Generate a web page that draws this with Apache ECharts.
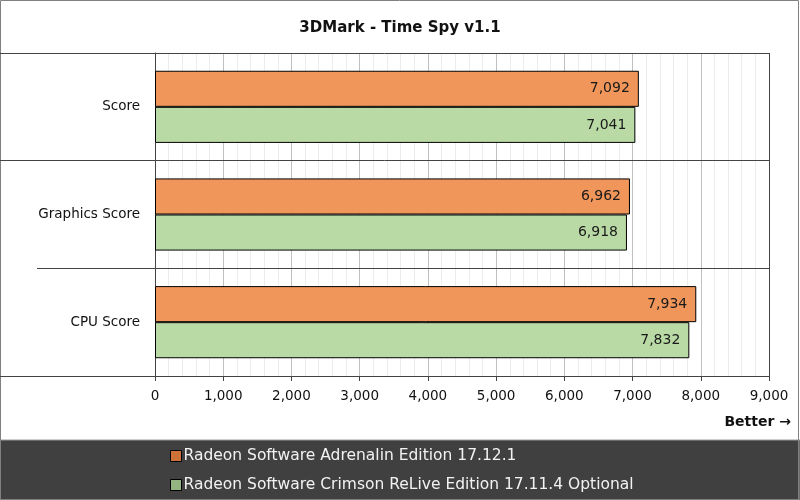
<!DOCTYPE html>
<html><head><meta charset="utf-8">
<script src="https://cdn.jsdelivr.net/npm/echarts@6/dist/echarts.min.js"></script>
<style>html,body{margin:0;padding:0;background:#fff}#c{width:800px;height:500px}</style>
</head><body><div id="c"></div>
<script>
const categories = ['Score', 'Graphics Score', 'CPU Score'];
const seriesNames = ['Radeon Software Adrenalin Edition 17.12.1', 'Radeon Software Crimson ReLive Edition 17.11.4 Optional'];
const adrenalin = [7092, 6962, 7934];
const crimson = [7041, 6918, 7832];
const xTicks = [0, 1000, 2000, 3000, 4000, 5000, 6000, 7000, 8000, 9000];

const FONT = '"DejaVu Sans", Verdana, sans-serif';
const fmt = v => v.toLocaleString('en-US');
const chart = echarts.init(document.getElementById('c'), null, {renderer: 'canvas'});
const barLabel = {show: true, position: 'insideRight', distance: 9, color: '#1a1a1a', fontSize: 14, fontFamily: FONT, formatter: p => fmt(p.value)};
const legendBase = {
  orient: 'vertical', left: 165, itemWidth: 11, itemHeight: 11, itemGap: 10,
  icon: 'rect', selectedMode: false,
  textStyle: {color: '#f2f2f2', fontSize: 15.5, fontFamily: FONT, padding: [0, 0, 0, -3]}
};
chart.setOption({
  animation: false,
  backgroundColor: '#fff',
  title: {text: '3DMark - Time Spy v1.1', left: 'center', top: 16, textStyle: {fontFamily: FONT, fontSize: 15, fontWeight: 'bold', color: '#111'}},
  grid: {left: 155, right: 31, top: 53, bottom: 124},
  legend: [
    Object.assign({}, legendBase, {top: 443, data: [{name: seriesNames[0], itemStyle: {color: '#cc7236', borderColor: '#000', borderWidth: 1}}]}),
    Object.assign({}, legendBase, {top: 472, data: [{name: seriesNames[1], itemStyle: {color: '#93b582', borderColor: '#000', borderWidth: 1}}]})
  ],
  xAxis: {
    type: 'value', min: xTicks[0], max: xTicks[xTicks.length - 1], interval: 1000,
    axisLine: {show: true, lineStyle: {color: '#444', width: 1}},
    axisTick: {show: true, length: 5, lineStyle: {color: '#444'}},
    axisLabel: {color: '#111', fontSize: 13.5, fontFamily: FONT, margin: 13, formatter: v => fmt(v)},
    splitLine: {show: true, lineStyle: {color: '#c0c0c0', width: 1}},
    minorTick: {show: false, splitNumber: 5},
    minorSplitLine: {show: true, lineStyle: {color: '#ececec', width: 1}}
  },
  yAxis: {
    type: 'category', data: categories, inverse: true,
    axisLine: {show: true, lineStyle: {color: '#444'}},
    axisTick: {show: false},
    axisLabel: {color: '#111', fontSize: 13.5, fontFamily: FONT, margin: 15},
    splitLine: {show: false}
  },
  series: [
    {name: seriesNames[0], type: 'bar', data: adrenalin, barGap: '0%', barCategoryGap: '33%',
     itemStyle: {color: '#f0965a', borderColor: '#000', borderWidth: 1}, label: barLabel},
    {name: seriesNames[1], type: 'bar', data: crimson,
     itemStyle: {color: '#b9daa5', borderColor: '#000', borderWidth: 1}, label: barLabel}
  ],
  graphic: [
    {type: 'rect', shape: {x: 0.5, y: 0.5, width: 798, height: 499}, style: {fill: 'none', stroke: '#808080', lineWidth: 1}, z: 0},
    {type: 'line', shape: {x1: 0, y1: 53.5, x2: 769, y2: 53.5}, style: {stroke: '#444', lineWidth: 1}, z: 10},
    {type: 'line', shape: {x1: 0, y1: 160.5, x2: 769, y2: 160.5}, style: {stroke: '#444', lineWidth: 1}, z: 10},
    {type: 'line', shape: {x1: 37, y1: 268.5, x2: 769, y2: 268.5}, style: {stroke: '#444', lineWidth: 1}, z: 10},
    {type: 'line', shape: {x1: 0, y1: 376.5, x2: 769, y2: 376.5}, style: {stroke: '#444', lineWidth: 1}, z: 10},
    {type: 'line', shape: {x1: 769.5, y1: 53, x2: 769.5, y2: 377}, style: {stroke: '#444', lineWidth: 1}, z: 10},
    {type: 'text', right: 9, top: 415, style: {text: 'Better →', font: 'bold 14px ' + FONT, fill: '#111'}},
    {type: 'rect', shape: {x: 0, y: 440, width: 800, height: 60}, style: {fill: '#404040', stroke: '#999', lineWidth: 1}, z: -1}
  ]
});
</script></body></html>
